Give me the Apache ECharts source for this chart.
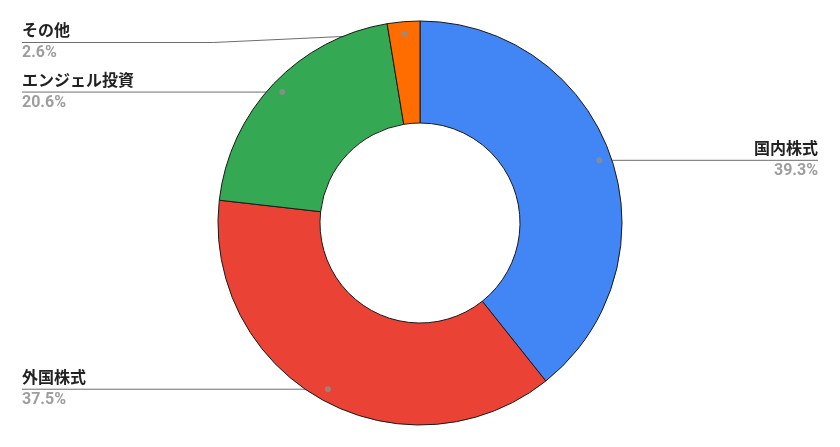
<!DOCTYPE html>
<html>
<head>
<meta charset="utf-8">
<style>
html,body{margin:0;padding:0;background:#fff;}
#chart{width:840px;height:447px;}
</style>
<script src="https://cdn.jsdelivr.net/npm/echarts@6/dist/echarts.min.js"></script>
</head>
<body>
<div id="chart"></div>
<script>
// ---- data ----
const categories = ['国内株式', '外国株式', 'エンジェル投資', 'その他'];
const values = [39.3, 37.5, 20.6, 2.6];
const colors = ['#4285F4', '#EA4335', '#34A853', '#FF6D01'];

// ---- layout constants ----
const W = 840, H = 447;
const CX = 420, CY = 223;
const R_IN = 100, R_OUT = 202, R_DOT = 190;
const EDGE = 22;
const FONT = "Roboto, 'Noto Sans CJK JP', sans-serif";

const total = values.reduce((a, b) => a + b, 0);
const mids = [];
{
  let cum = 0;
  values.forEach(v => { mids.push(cum + v / 2); cum += v; });
}

const chart = echarts.init(document.getElementById('chart'), null, {renderer: 'canvas'});

function dotPos(i) {
  const a = mids[i] / total * Math.PI * 2;
  return [CX + R_DOT * Math.sin(a), CY - R_DOT * Math.cos(a)];
}

const option = {
  animation: false,
  backgroundColor: '#ffffff',
  polar: {center: [CX, CY], radius: R_OUT},
  angleAxis: {type: 'value', min: 0, max: total, startAngle: 90, clockwise: true, show: false},
  radiusAxis: {type: 'value', min: 0, max: R_OUT, show: false},
  series: [
    {
      type: 'pie',
      center: [CX, CY],
      radius: [R_IN, R_OUT],
      startAngle: 90,
      clockwise: true,
      avoidLabelOverlap: true,
      emphasis: {disabled: true},
      itemStyle: {borderColor: '#1a1a1a', borderWidth: 1},
      data: categories.map((c, i) => ({name: c, value: values[i], itemStyle: {color: colors[i]}})),
      label: {
        show: true,
        position: 'outer',
        formatter: p => '{n|' + p.name + '}\n{p|' + p.value.toFixed(1) + '%}',
        rich: {
          n: {fontFamily: FONT, fontSize: 16, fontWeight: 'bold', color: '#222222', lineHeight: 21},
          p: {fontFamily: FONT, fontSize: 16, fontWeight: 'bold', color: '#9e9e9e', lineHeight: 21}
        }
      },
      labelLine: {show: true, length: 10, length2: 10, smooth: false,
        lineStyle: {color: '#6e6e6e', width: 1}},
      labelLayout: function (params) {
        const i = params.dataIndex;
        const d = dotPos(i);
        const isLeft = d[0] < CX;
        const h = params.labelRect.height;
        let y = d[1];
        y = Math.max(y, 24 + h / 2);
        y = Math.min(y, H - 24 - h / 2);
        const endX = isLeft ? EDGE : W - EDGE;
        let bend;
        if (Math.abs(y - d[1]) < 0.5) bend = [d[0], y];
        else bend = [(d[0] + endX) / 2, y];
        return {
          x: endX,
          y: y,
          align: isLeft ? 'left' : 'right',
          verticalAlign: 'middle',
          labelLinePoints: [d, bend, [endX, y]]
        };
      }
    },
    {
      type: 'scatter',
      coordinateSystem: 'polar',
      symbol: 'circle',
      symbolSize: 6,
      z: 10,
      silent: true,
      itemStyle: {color: '#8f8f8f'},
      data: mids.map(m => [R_DOT, m])
    }
  ]
};
chart.setOption(option);
</script>
</body>
</html>
